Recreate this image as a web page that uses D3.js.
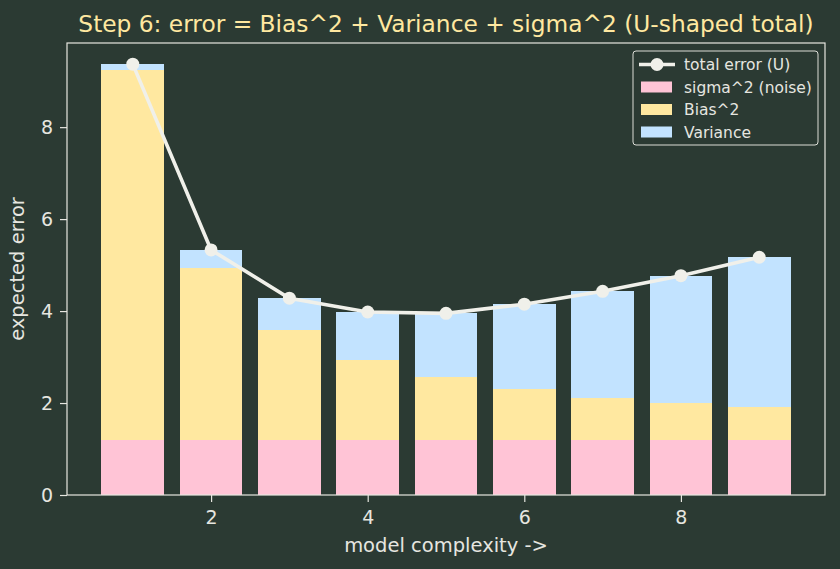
<!DOCTYPE html>
<html>
<head>
<meta charset="utf-8">
<script src="https://cdn.jsdelivr.net/npm/d3@7"></script>
<style>
  body { margin: 0; background: #2b3a33; }
  svg { display: block; font-family: "DejaVu Sans", sans-serif; }
</style>
</head>
<body>
<svg id="chart" width="840" height="569"></svg>
<script>
// complexity levels and the three error parts
const complexity = [1, 2, 3, 4, 5, 6, 7, 8, 9];
const noise = [1.2, 1.2, 1.2, 1.2, 1.2, 1.2, 1.2, 1.2, 1.2];
const bias2 = [8.04, 3.73, 2.39, 1.73, 1.37, 1.10, 0.92, 0.81, 0.72];
const variance = [0.13, 0.40, 0.69, 1.05, 1.38, 1.85, 2.31, 2.76, 3.25];
const xTicks = [2, 4, 6, 8];
const yTicks = [0, 2, 4, 6, 8];
const total = complexity.map((c, i) => noise[i] + bias2[i] + variance[i]);

const bg = "#2b3a33", fg = "#e6e6e0";
const colors = { noise: "#ffc4d6", bias: "#ffe8a0", variance: "#c2e3ff" };

const svg = d3.select("#chart");
const margin = { top: 43, right: 15, bottom: 74, left: 67 };
const W = 840, H = 569;

const x = d3.scaleLinear().domain([0.16, 9.84]).range([margin.left, W - margin.right]);
const y = d3.scaleLinear().domain([0, 9.83]).range([H - margin.bottom, margin.top]);
const barW = x(0.8) - x(0);

// stacked bars: noise, bias^2, variance
const layers = [
  { key: "noise", vals: noise },
  { key: "bias", vals: bias2 },
  { key: "variance", vals: variance }
];
let base = complexity.map(() => 0);
layers.forEach(l => {
  const b0 = base.slice();
  svg.append("g").selectAll("rect")
    .data(complexity)
    .enter().append("rect")
    .attr("x", (d) => x(d) - barW / 2)
    .attr("width", barW)
    .attr("y", (d, i) => y(b0[i] + l.vals[i]))
    .attr("height", (d, i) => y(b0[i]) - y(b0[i] + l.vals[i]))
    .attr("fill", colors[l.key])
    .attr("shape-rendering", "crispEdges");
  base = base.map((v, i) => v + l.vals[i]);
});

// total line
const line = d3.line().x((d, i) => x(complexity[i])).y(d => y(d));
svg.append("path")
  .datum(total)
  .attr("d", line)
  .attr("fill", "none")
  .attr("stroke", "#f0f0ea")
  .attr("stroke-width", 3.6);
svg.append("g").selectAll("circle")
  .data(total)
  .enter().append("circle")
  .attr("cx", (d, i) => x(complexity[i]))
  .attr("cy", d => y(d))
  .attr("r", 6.5)
  .attr("fill", "#f0f0ea");

// axes
const xAxis = svg.append("g")
  .attr("transform", "translate(0," + (H - margin.bottom) + ")")
  .call(d3.axisBottom(x).tickValues(xTicks).tickSize(7).tickPadding(9).tickSizeOuter(0));
const yAxis = svg.append("g")
  .attr("transform", "translate(" + margin.left + ",0)")
  .call(d3.axisLeft(y).tickValues(yTicks).tickSize(7).tickPadding(7).tickSizeOuter(0));
[xAxis, yAxis].forEach(a => {
  a.select(".domain").remove();
  a.selectAll("line").attr("stroke", fg).attr("stroke-width", 1.2);
  a.selectAll("text").attr("fill", fg).attr("font-size", 19).attr("font-family", "DejaVu Sans");
});

// frame
svg.append("rect")
  .attr("x", margin.left).attr("y", margin.top)
  .attr("width", W - margin.left - margin.right)
  .attr("height", H - margin.top - margin.bottom)
  .attr("fill", "none").attr("stroke", fg).attr("stroke-width", 1.2);

// title and labels
svg.append("text")
  .attr("x", (margin.left + W - margin.right) / 2).attr("y", 32)
  .attr("text-anchor", "middle").attr("font-size", 23.3).attr("fill", "#ffe8a0")
  .text("Step 6: error = Bias^2 + Variance + sigma^2 (U-shaped total)");
svg.append("text")
  .attr("x", (margin.left + W - margin.right) / 2).attr("y", 552)
  .attr("text-anchor", "middle").attr("font-size", 19.5).attr("fill", fg)
  .text("model complexity ->");
svg.append("text")
  .attr("transform", "translate(24," + (margin.top + (H - margin.bottom - margin.top) / 2) + ") rotate(-90)")
  .attr("text-anchor", "middle").attr("font-size", 19.5).attr("fill", fg)
  .text("expected error");

// legend
const lg = svg.append("g").attr("transform", "translate(633,51)");
lg.append("rect")
  .attr("width", 185).attr("height", 94).attr("rx", 3)
  .attr("fill", bg).attr("stroke", fg).attr("stroke-width", 1).attr("opacity", 0.95);
const items = [
  { label: "total error (U)", type: "line" },
  { label: "sigma^2 (noise)", color: colors.noise },
  { label: "Bias^2", color: colors.bias },
  { label: "Variance", color: colors.variance }
];
items.forEach((it, i) => {
  const cy = 13.5 + i * 22.5;
  if (it.type === "line") {
    lg.append("line").attr("x1", 6).attr("x2", 42).attr("y1", cy).attr("y2", cy)
      .attr("stroke", "#f0f0ea").attr("stroke-width", 3.6);
    lg.append("circle").attr("cx", 24).attr("cy", cy).attr("r", 6.5).attr("fill", "#f0f0ea");
  } else {
    lg.append("rect").attr("x", 8).attr("y", cy - 5.5).attr("width", 31).attr("height", 11)
      .attr("fill", it.color);
  }
  lg.append("text").attr("x", 51).attr("y", cy + 5.5)
    .attr("font-size", 15.5).attr("fill", fg).text(it.label);
});
</script>
</body>
</html>
